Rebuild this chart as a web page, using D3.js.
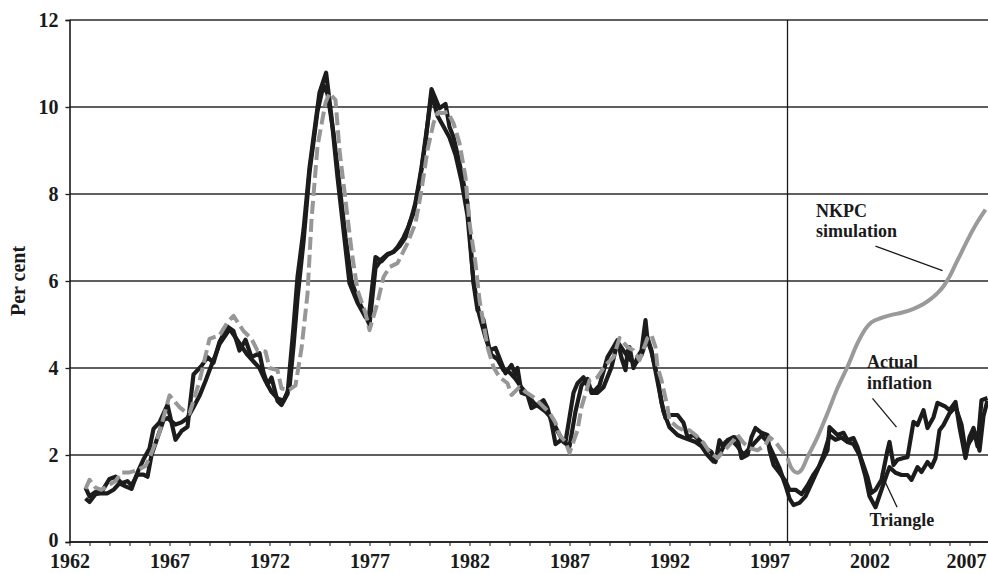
<!DOCTYPE html>
<html><head><meta charset="utf-8">
<script src="https://cdn.jsdelivr.net/npm/d3@7"></script>
<style>body{margin:0;background:#fff}svg{display:block}text{font-family:"Liberation Serif","Times New Roman",serif;font-weight:bold;fill:#1a1a1a}</style>
</head><body><svg id="c" width="988" height="574"></svg>
<script>
// ---- data (decimal year, per cent) ----
const actualInflation = [
[1962.8,1.0],[1963.0,0.92],[1963.3,1.1],[1963.6,1.12],[1963.9,1.12],[1964.2,1.2],[1964.5,1.35],[1964.8,1.28],[1965.1,1.22],[1965.4,1.6],[1965.7,1.9],[1966.0,2.15],[1966.2,2.6],[1966.5,2.75],[1966.9,3.15],[1967.3,2.35],[1967.6,2.55],[1967.9,2.65],[1968.2,3.85],[1968.6,4.05],[1968.9,4.25],[1969.2,4.12],[1969.5,4.6],[1969.9,4.95],[1970.2,4.85],[1970.5,4.4],[1970.8,4.65],[1971.1,4.25],[1971.5,4.34],[1971.7,3.9],[1971.9,3.62],[1972.1,3.78],[1972.4,3.24],[1972.6,3.15],[1972.9,3.4],[1973.2,4.94],[1973.4,6.09],[1973.7,7.17],[1974.0,8.6],[1974.5,10.33],[1974.83,10.79],[1975.1,9.77],[1975.4,8.39],[1975.7,7.17],[1976.0,5.95],[1976.4,5.5],[1976.8,5.17],[1976.95,5.1],[1977.3,6.55],[1977.6,6.45],[1977.9,6.6],[1978.2,6.67],[1978.5,6.8],[1978.8,7.0],[1979.0,7.33],[1979.2,7.56],[1979.5,8.25],[1979.8,9.2],[1980.1,10.41],[1980.5,9.97],[1980.8,10.07],[1981.0,9.54],[1981.2,9.31],[1981.5,8.71],[1981.9,7.79],[1982.2,5.95],[1982.4,5.33],[1982.7,5.1],[1983.0,4.41],[1983.3,4.46],[1983.6,4.11],[1983.8,3.88],[1984.1,4.07],[1984.3,3.84],[1984.4,4.0],[1984.6,3.43],[1984.9,3.38],[1985.1,3.08],[1985.4,3.15],[1985.7,3.26],[1985.9,3.08],[1986.1,2.74],[1986.3,2.25],[1986.6,2.35],[1986.8,2.3],[1987.2,3.43],[1987.4,3.65],[1987.7,3.79],[1987.9,3.6],[1988.2,3.45],[1988.5,3.6],[1988.9,4.25],[1989.2,4.48],[1989.4,4.64],[1989.6,4.23],[1989.8,3.95],[1989.9,4.37],[1990.0,4.48],[1990.2,4.0],[1990.4,4.25],[1990.6,4.4],[1990.8,5.1],[1990.9,4.64],[1991.1,4.37],[1991.4,3.79],[1991.6,3.2],[1991.8,2.85],[1992.0,2.92],[1992.4,2.92],[1992.7,2.74],[1992.9,2.41],[1993.2,2.46],[1993.5,2.34],[1993.8,2.16],[1994.1,2.07],[1994.3,1.84],[1994.5,2.34],[1994.7,2.18],[1994.9,2.34],[1995.2,2.41],[1995.4,2.39],[1995.6,1.93],[1995.9,2.0],[1996.1,2.41],[1996.3,2.62],[1996.6,2.51],[1996.9,2.46],[1997.0,2.11],[1997.2,1.77],[1997.5,1.59],[1997.8,1.4],[1998.0,1.2],[1998.3,1.2],[1998.6,1.1],[1998.9,1.3],[1999.2,1.55],[1999.5,1.75],[1999.9,2.11],[2000.0,2.64],[2000.4,2.46],[2000.7,2.51],[2000.9,2.34],[2001.2,2.39],[2001.4,2.18],[2001.6,1.89],[2001.9,1.49],[2002.1,1.13],[2002.3,1.2],[2002.6,1.43],[2002.9,2.11],[2003.0,2.3],[2003.2,1.77],[2003.4,1.89],[2003.7,1.93],[2003.9,1.95],[2004.2,2.76],[2004.4,2.69],[2004.7,3.03],[2004.9,2.62],[2005.2,2.87],[2005.4,3.2],[2005.8,3.11],[2006.0,3.03],[2006.3,3.22],[2006.5,2.64],[2006.8,1.93],[2007.0,2.41],[2007.2,2.62],[2007.4,2.2],[2007.6,3.26],[2007.9,3.31]
];
const triangleModel = [
[1962.8,1.25],[1963.0,1.05],[1963.3,1.15],[1963.6,1.15],[1964.0,1.45],[1964.3,1.5],[1964.6,1.35],[1964.9,1.4],[1965.1,1.3],[1965.4,1.55],[1965.7,1.55],[1965.9,1.5],[1966.1,2.0],[1966.4,2.4],[1966.7,2.8],[1966.9,2.85],[1967.3,2.7],[1967.6,2.75],[1967.9,2.85],[1968.2,3.1],[1968.5,3.36],[1968.8,3.7],[1969.0,3.95],[1969.3,4.3],[1969.5,4.55],[1969.8,4.75],[1970.0,4.9],[1970.3,4.7],[1970.6,4.5],[1970.9,4.3],[1971.2,4.15],[1971.5,4.0],[1971.8,3.7],[1972.1,3.45],[1972.4,3.3],[1972.7,3.25],[1973.0,3.55],[1973.2,4.5],[1973.4,5.6],[1973.7,6.9],[1974.0,8.5],[1974.4,9.9],[1974.7,10.5],[1974.9,10.3],[1975.2,9.4],[1975.5,8.2],[1975.8,7.0],[1976.1,6.0],[1976.4,5.6],[1976.8,5.2],[1977.0,5.0],[1977.3,6.3],[1977.6,6.5],[1977.9,6.62],[1978.2,6.67],[1978.4,6.78],[1978.7,7.0],[1979.0,7.3],[1979.3,7.8],[1979.6,8.6],[1979.9,9.6],[1980.1,10.3],[1980.4,9.8],[1980.7,9.55],[1981.0,9.3],[1981.3,8.9],[1981.6,8.3],[1981.9,7.5],[1982.2,6.0],[1982.5,5.2],[1982.8,4.7],[1983.1,4.3],[1983.4,4.2],[1983.7,3.95],[1984.0,3.9],[1984.3,3.75],[1984.6,3.55],[1984.9,3.4],[1985.2,3.2],[1985.5,3.1],[1985.8,3.0],[1986.1,2.85],[1986.4,2.55],[1986.7,2.3],[1987.0,2.2],[1987.3,3.0],[1987.6,3.6],[1987.9,3.75],[1988.1,3.43],[1988.4,3.43],[1988.7,3.56],[1988.9,3.79],[1989.1,4.02],[1989.4,4.6],[1989.7,4.4],[1990.0,4.2],[1990.3,4.1],[1990.6,4.3],[1990.9,4.7],[1991.1,4.4],[1991.4,3.7],[1991.7,3.0],[1992.0,2.64],[1992.4,2.46],[1992.7,2.4],[1993.0,2.35],[1993.3,2.3],[1993.6,2.2],[1993.9,2.0],[1994.2,1.85],[1994.5,2.0],[1994.8,2.3],[1995.1,2.35],[1995.4,2.2],[1995.7,2.0],[1996.0,2.15],[1996.3,2.3],[1996.6,2.45],[1996.9,2.3],[1997.2,2.0],[1997.5,1.7],[1997.8,1.3],[1998.0,1.0],[1998.2,0.85],[1998.5,0.9],[1998.8,1.05],[1999.1,1.35],[1999.4,1.65],[1999.7,2.0],[2000.0,2.45],[2000.3,2.35],[2000.6,2.4],[2000.9,2.3],[2001.2,2.25],[2001.5,2.0],[2001.8,1.5],[2002.0,1.05],[2002.3,0.8],[2002.6,1.2],[2002.9,1.6],[2003.0,1.72],[2003.3,1.59],[2003.6,1.54],[2003.9,1.54],[2004.1,1.43],[2004.4,1.72],[2004.6,1.61],[2004.9,1.84],[2005.1,1.72],[2005.3,1.93],[2005.5,2.57],[2005.7,2.69],[2006.0,2.96],[2006.3,3.11],[2006.6,2.7],[2006.8,2.1],[2007.0,2.3],[2007.3,2.5],[2007.5,2.1],[2007.7,2.9],[2007.9,3.25]
];
const nkpcFitted = [
[1962.8,1.22],[1963.0,1.43],[1963.3,1.25],[1963.6,1.2],[1964.0,1.32],[1964.3,1.4],[1964.6,1.6],[1965.0,1.6],[1965.4,1.65],[1965.8,1.75],[1966.0,1.93],[1966.5,2.52],[1966.9,3.2],[1967.0,3.37],[1967.5,3.1],[1967.9,2.95],[1968.0,2.95],[1968.5,3.7],[1969.0,4.67],[1969.5,4.75],[1969.9,5.05],[1970.2,5.2],[1970.7,4.85],[1971.1,4.67],[1971.4,4.4],[1971.8,4.38],[1972.0,4.0],[1972.4,3.95],[1972.6,3.53],[1973.0,3.5],[1973.3,3.6],[1973.6,4.45],[1973.9,5.7],[1974.1,7.4],[1974.4,9.1],[1974.8,10.1],[1975.0,10.32],[1975.3,10.16],[1975.5,9.01],[1975.8,7.86],[1976.1,6.71],[1976.4,5.79],[1976.8,5.26],[1977.0,4.87],[1977.4,5.5],[1977.7,6.09],[1978.0,6.32],[1978.4,6.41],[1978.9,6.87],[1979.3,7.33],[1979.6,8.09],[1979.9,9.01],[1980.2,9.63],[1980.4,9.86],[1980.7,9.86],[1980.9,9.89],[1981.2,9.63],[1981.5,9.17],[1981.8,8.39],[1982.0,7.33],[1982.3,6.41],[1982.5,5.56],[1982.7,5.03],[1982.9,4.48],[1983.2,4.02],[1983.5,3.79],[1983.9,3.65],[1984.1,3.38],[1984.5,3.56],[1984.8,3.45],[1985.2,3.33],[1985.5,3.2],[1986.0,2.97],[1986.3,2.74],[1986.5,2.46],[1986.8,2.3],[1987.0,2.05],[1987.4,2.57],[1987.6,3.1],[1987.9,3.56],[1988.0,3.72],[1988.4,3.79],[1988.7,4.0],[1988.9,4.11],[1989.2,4.25],[1989.5,4.69],[1989.9,4.48],[1990.2,4.41],[1990.5,4.18],[1990.9,4.69],[1991.1,4.76],[1991.3,4.48],[1991.4,4.02],[1991.6,3.72],[1991.9,3.1],[1992.0,2.8],[1992.4,2.64],[1992.7,2.57],[1993.0,2.57],[1993.3,2.46],[1993.7,2.28],[1994.0,2.07],[1994.4,1.93],[1994.6,2.04],[1994.9,2.18],[1995.2,2.34],[1995.4,2.46],[1995.7,2.28],[1996.0,2.16],[1996.4,2.11],[1996.8,2.23],[1997.0,2.41],[1997.3,2.3],[1997.6,2.11],[1997.9,1.93]
];
const nkpcSimulation = [
[1997.9,1.93],[1998.1,1.7],[1998.4,1.59],[1998.6,1.66],[1998.9,1.95],[1999.4,2.41],[1999.9,2.96],[2000.4,3.54],[2000.9,4.03],[2001.4,4.57],[2001.8,4.9],[2002.1,5.05],[2002.6,5.15],[2003.1,5.22],[2003.6,5.27],[2004.2,5.36],[2004.7,5.47],[2005.1,5.6],[2005.4,5.72],[2005.7,5.88],[2006.0,6.1],[2006.3,6.38],[2006.6,6.66],[2006.9,6.94],[2007.3,7.28],[2007.8,7.64]
];
const yTicks = [0,2,4,6,8,10,12];
const xLabels = [1962,1967,1972,1977,1982,1987,1992,1997,2002,2007];
const simulationStart = 1997.9;
const annotations = [
  {lines:["NKPC","simulation"], at:[1999.33,7.48], from:[2002.3,6.8], to:[2005.65,6.24]},
  {lines:["Actual","inflation"], at:[2001.88,4.0], from:[2002.15,3.3], to:[2003.35,2.64]},
  {lines:["Triangle"], at:[2002.0,0.37], from:[2002.58,1.58], to:[2003.38,0.8]}
];

// ---- chart ----
const svg = d3.select("#c");
const x = d3.scaleLinear().domain([1962, 2007.925]).range([69.5, 988]);
const y = d3.scaleLinear().domain([0, 12]).range([542, 20]);

// gridlines
svg.append("g").selectAll("line").data(yTicks).join("line")
  .attr("x1", x(1962)).attr("x2", 988)
  .attr("y1", d => y(d)).attr("y2", d => y(d))
  .attr("stroke", "#2a2a2a").attr("stroke-width", 1.3);

// y axis
const yAx = svg.append("g").attr("transform", `translate(${x(1962)},0)`)
  .call(d3.axisLeft(y).tickValues(yTicks).tickSize(4).tickPadding(7));
yAx.select(".domain").attr("stroke", "#1a1a1a").attr("stroke-width", 1.6);
yAx.selectAll(".tick line").attr("stroke", "#1a1a1a").attr("stroke-width", 1.3);
yAx.selectAll("text").attr("font-size", 20).attr("font-family", "Liberation Serif").attr("font-weight", "bold").attr("fill", "#1a1a1a");
yAx.selectAll(".tick").filter(d => d === 0).select("text").attr("dy", "0.22em");

// x axis
const years = d3.range(1962, 2008);
const xAx = svg.append("g").attr("transform", `translate(0,${y(0)})`)
  .call(d3.axisBottom(x).tickValues(years).tickSize(4).tickPadding(8)
    .tickFormat(d => xLabels.includes(d) ? String(d) : ""));
xAx.select(".domain").attr("stroke", "#1a1a1a").attr("stroke-width", 1.6).attr("d", `M${x(1962)},0H988`);
xAx.selectAll(".tick line").attr("stroke", "#1a1a1a").attr("stroke-width", 1);
xAx.selectAll("text").attr("font-size", 20).attr("font-family", "Liberation Serif").attr("font-weight", "bold").attr("fill", "#1a1a1a");
// keep the last label inside the picture
xAx.selectAll(".tick").filter(d => d === 2007).select("text").attr("text-anchor", "end").attr("x", 988 - x(2007) - 2);

// y title
svg.append("text").attr("transform", `translate(25,${y(6)}) rotate(-90)`)
  .attr("text-anchor", "middle").attr("font-size", 20).text("Per cent");

// vertical divider
svg.append("line").attr("x1", x(simulationStart)).attr("x2", x(simulationStart))
  .attr("y1", y(12)).attr("y2", y(0)).attr("stroke", "#1a1a1a").attr("stroke-width", 1.3);

const line = d3.line().x(d => x(d[0])).y(d => y(d[1]));
const smooth = d3.line().x(d => x(d[0])).y(d => y(d[1])).curve(d3.curveMonotoneX);
const g = svg.append("g").attr("fill", "none").attr("stroke-linejoin", "round");
g.append("path").attr("d", line(triangleModel)).attr("stroke", "#1c1c1c").attr("stroke-width", 4.2);
g.append("path").attr("d", line(actualInflation)).attr("stroke", "#1c1c1c").attr("stroke-width", 4.2);
g.append("path").attr("d", line(nkpcFitted)).attr("stroke", "#979797").attr("stroke-width", 4).attr("stroke-dasharray", "13,5");
g.append("path").attr("d", smooth(nkpcSimulation)).attr("stroke", "#9a9a9a").attr("stroke-width", 4);

// annotations
annotations.forEach(a => {
  const t = svg.append("text").attr("x", x(a.at[0])).attr("y", y(a.at[1])).attr("font-size", 18);
  a.lines.forEach((s, i) => t.append("tspan").attr("x", x(a.at[0])).attr("dy", i ? 20.5 : 0).text(s));
  svg.append("line").attr("x1", x(a.from[0])).attr("y1", y(a.from[1]))
    .attr("x2", x(a.to[0])).attr("y2", y(a.to[1])).attr("stroke", "#1a1a1a").attr("stroke-width", 1.3);
});
</script></body></html>
